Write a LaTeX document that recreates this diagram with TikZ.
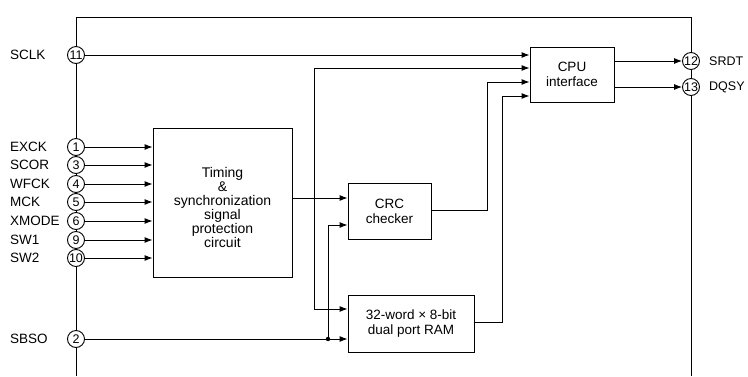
\documentclass[tikz,border=0pt]{standalone}
\usepackage{fontspec}
\setmainfont{Liberation Sans}
\usetikzlibrary{arrows.meta,calc}
\begin{document}
\begin{tikzpicture}[x=1pt,y=-1pt,
  every node/.style={font=\fontsize{13.5}{15}\selectfont, text=black},
  pin/.style={circle,draw=black,line width=0.9pt,fill=white,minimum size=17pt,inner sep=0pt,font=\fontsize{12.5}{12.5}\selectfont},
  blk/.style={draw=black,line width=0.9pt,rectangle,inner sep=0pt,align=center},
  lbl/.style={anchor=west,inner sep=0pt},
  rlbl/.style={anchor=west,inner sep=0pt,font=\fontsize{12.5}{14}\selectfont},
  wire/.style={line width=0.9pt, draw=black},
  arr/.style={wire,-{Latex[length=8pt,width=6pt]}},
  dblarr/.style={wire,{Latex[length=8pt,width=6pt]}-{Latex[length=8pt,width=6pt]}},
]
\useasboundingbox (0,0) rectangle (748,376);

% pins
\node[pin] (p11) at (76,55) {11};
\node[pin] (p1) at (76,147) {1};
\node[pin] (p3) at (76,165) {3};
\node[pin] (p4) at (76,184) {4};
\node[pin] (p5) at (76,202) {5};
\node[pin] (p6) at (76,221) {6};
\node[pin] (p9) at (76,240) {9};
\node[pin] (p10) at (76,258) {10};
\node[pin] (p2) at (76,339) {2};
\node[pin] (p12) at (691,61) {12};
\node[pin] (p13) at (691,87) {13};

% labels
\node[lbl] (lsclk) at (10,55) {SCLK};
\node[lbl] (lexck) at (10,147) {EXCK};
\node[lbl] (lscor) at (10,165) {SCOR};
\node[lbl] (lwfck) at (10,184) {WFCK};
\node[lbl] (lmck) at (10,202) {MCK};
\node[lbl] (lxmode) at (10,221) {XMODE};
\node[lbl] (lsw1) at (10,240) {SW1};
\node[lbl] (lsw2) at (10,258) {SW2};
\node[lbl] (lsbso) at (10,339) {SBSO};
\node[rlbl] (lsrdt) at (709,61) {SRDT};
\node[rlbl] (ldqsy) at (709,87) {DQSY};

% blocks
\node[blk, minimum width=139pt, minimum height=149pt] (tim) at (222.5,202.5) {};
\node[align=center, font=\fontsize{14}{14}\selectfont] (timtxt) at (222.5,207) {Timing\\\&\\synchronization\\signal\\protection\\circuit};
\node[blk, minimum width=83pt, minimum height=56pt] (crc) at (389.5,211) {CRC\\checker};
\node[blk, minimum width=126pt, minimum height=57pt] (ram) at (411,323.5) {32-word × 8-bit\\dual port RAM};
\node[blk, minimum width=84pt, minimum height=55pt] (cpu) at (572,74.5) {CPU\\interface};

% helper rows
\coordinate (r68) at (0,68);
\coordinate (r82) at (0,82);
\coordinate (r96) at (0,96);
\coordinate (r198) at (0,198);
\coordinate (r210) at (0,210);
\coordinate (r225) at (0,225);
\coordinate (r309) at (0,309);
\coordinate (r322) at (0,322);
\coordinate (jn) at (328,339);

% chip outline
\draw[wire] (p11) -- (76,17) -| (p12);
\foreach \a/\b in {p11/p1,p1/p3,p3/p4,p4/p5,p5/p6,p6/p9,p9/p10,p10/p2}
  \draw[wire] (\a) -- (\b);
\draw[wire] (p2) -- (76,376);
\draw[wire] (p12) -- (p13);
\draw[wire] (p13) -- (691,376);

% inputs
\draw[arr] (p11) -- (p11 -| cpu.west);
\foreach \p in {p1,p3,p4,p5,p6,p9,p10}
  \draw[arr] (\p) -- (\p -| tim.west);
\draw[arr] (p2) -- (p2 -| ram.west);

% internal
\draw[arr] (tim.east |- r198) -- (crc.west |- r198);
\draw[arr] (jn) |- (crc.west |- r225);
\fill[black] (jn) circle (2.2pt);
\draw[dblarr] (cpu.west |- r68) -| (314,309) -- (ram.west |- r309);
\draw[arr] (crc.east |- r210) -| (487,82) -- (cpu.west |- r82);
\draw[arr] (ram.east |- r322) -| (502,96) -- (cpu.west |- r96);

% outputs
\draw[arr] (cpu.east |- p12) -- (p12);
\draw[arr] (cpu.east |- p13) -- (p13);
\end{tikzpicture}
\end{document}
